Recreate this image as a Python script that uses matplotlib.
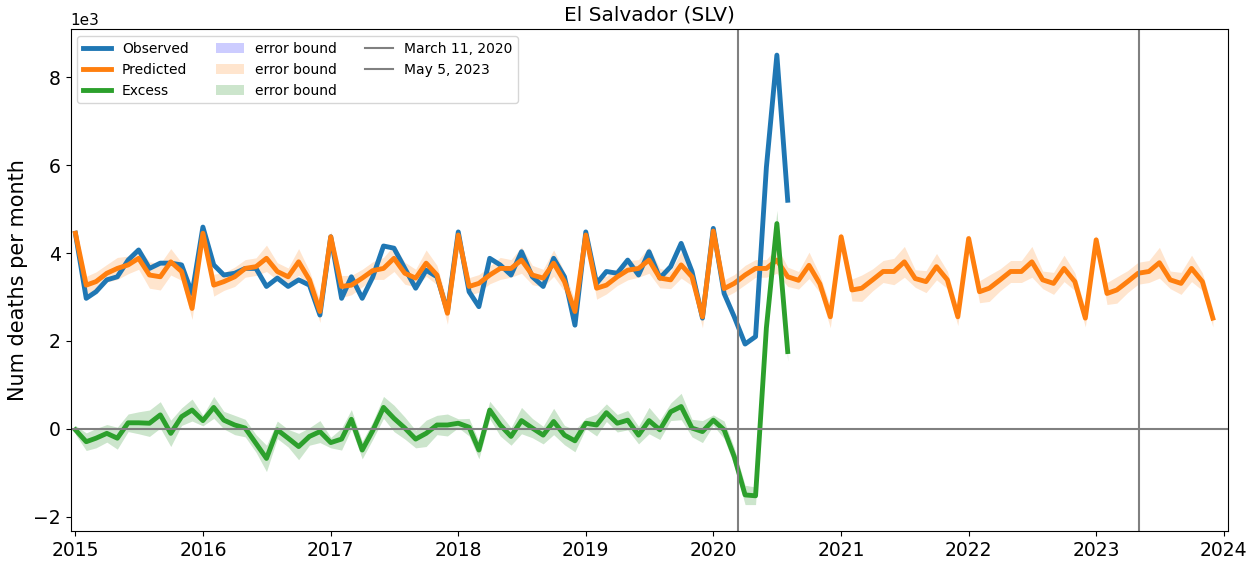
import numpy as np
import pandas as pd
import matplotlib
matplotlib.use("Agg")
import matplotlib.pyplot as plt

# monthly deaths, El Salvador
dates = pd.date_range("2015-01-01", "2023-12-01", freq="MS")

observed = [
    4450, 2970, 3120, 3390, 3460, 3840, 4070, 3650, 3770, 3770, 3730, 3080,
    4590, 3730, 3500, 3540, 3650, 3650, 3240, 3430, 3240, 3390, 3270, 2590,
    4370, 2970, 3460, 2970, 3450, 4160, 4110, 3650, 3200, 3610, 3460, 2670,
    4480, 3120, 2780, 3880, 3730, 3500, 4030, 3460, 3240, 3880, 3460, 2360,
    4480, 3310, 3580, 3540, 3840, 3500, 4030, 3430, 3690, 4220, 3580, 2520,
    4560, 3080, 2550, 1930, 2100, 5950, 8500, 5200,
]

predicted = [
    4450, 3270, 3350, 3540, 3650, 3730, 3880, 3500, 3460, 3800, 3580, 2740,
    4450, 3270, 3350, 3460, 3650, 3690, 3880, 3580, 3460, 3800, 3390, 2670,
    4370, 3240, 3270, 3430, 3600, 3650, 3880, 3540, 3430, 3770, 3500, 2630,
    4410, 3240, 3310, 3500, 3650, 3650, 3840, 3500, 3430, 3770, 3350, 2670,
    4410, 3200, 3270, 3460, 3610, 3650, 3840, 3430, 3390, 3730, 3460, 2550,
    4500, 3190, 3310, 3500, 3650, 3650, 3840, 3460, 3380, 3720, 3300, 2550,
    4370, 3160, 3200, 3390, 3580, 3580, 3800, 3420, 3350, 3690, 3390, 2550,
    4330, 3120, 3200, 3390, 3580, 3580, 3800, 3390, 3310, 3650, 3350, 2520,
    4300, 3080, 3160, 3350, 3540, 3580, 3780, 3390, 3310, 3650, 3350, 2520,
]

excess = [
    -20, -290, -210, -100, -210, 140, 140, 130, 320, -100, 280, 430,
    190, 490, 200, 90, 20, -330, -670, -20, -210, -400, -170, -60,
    -310, -230, 220, -480, -40, 490, 240, 20, -230, -100, 90, 90,
    130, 40, -480, 430, 90, -170, 190, 20, -140, 170, -140, -270,
    130, 90, 370, 130, 200, -140, 190, -20, 390, 510, 20, -60,
    200, -20, -630, -1500, -1520, 2300, 4670, 1760,
]

# half width of the error bound around predicted / excess
pred_err = [
    100, 200, 220, 200, 250, 200, 250, 300, 300, 300, 200, 250,
    120, 250, 200, 220, 200, 200, 300, 200, 200, 300, 200, 250,
    120, 250, 220, 200, 200, 250, 300, 250, 200, 300, 220, 250,
    100, 200, 200, 200, 250, 200, 300, 220, 200, 300, 220, 250,
    120, 250, 200, 200, 220, 200, 300, 220, 200, 300, 200, 250,
    120, 200, 200, 220, 200, 200, 300, 220, 200, 300, 200, 250,
    100, 250, 300, 250, 250, 300, 350, 200, 250, 300, 200, 200,
    100, 250, 300, 250, 250, 250, 350, 200, 250, 300, 200, 200,
    100, 250, 300, 250, 250, 250, 350, 200, 250, 300, 200, 200,
]

events = [("March 11, 2020", "2020-03-11"), ("May 5, 2023", "2023-05-05")]

obs = np.array(observed, dtype=float)
pred = np.array(predicted, dtype=float)
exc = np.array(excess, dtype=float)
err = np.array(pred_err, dtype=float)
d_obs = dates[:len(obs)]
d_exc = dates[:len(exc)]

fig = plt.figure(figsize=(12.59, 5.61), dpi=100)
ax = fig.add_axes([0.056, 0.0535, 0.919, 0.8945])

l_obs, = ax.plot(d_obs, obs, color="C0", lw=3.5, label="Observed")
l_pred, = ax.plot(dates, pred, color="C1", lw=3.5, label="Predicted")
l_exc, = ax.plot(d_exc, exc, color="C2", lw=3.5, label="Excess")

f_obs = ax.fill_between(d_obs, obs, obs, color="blue", alpha=0.2, lw=0, label="error bound")
f_pred = ax.fill_between(dates, pred - err, pred + err, color="C1", alpha=0.2, lw=0, label="error bound")
e = err[:len(exc)]
f_exc = ax.fill_between(d_exc, exc - e, exc + e, color="green", alpha=0.2, lw=0, label="error bound")

vls = []
for name, day in events:
    vls.append(ax.axvline(pd.Timestamp(day), color="gray", lw=1.5, label=name))
ax.axhline(0, color="gray", lw=1.5)

ax.set_xlim(pd.Timestamp("2014-12-18"), pd.Timestamp("2024-01-12"))
ax.set_ylim(-2320, 9090)
ax.ticklabel_format(axis="y", style="sci", scilimits=(3, 3))
ax.yaxis.get_offset_text().set_fontsize(11)
ax.tick_params(labelsize=13.5)

ax.set_title("El Salvador (SLV)", fontsize=14.5)
ax.set_ylabel("Num deaths per month", fontsize=15)

ax.legend(handles=[l_obs, l_pred, l_exc, f_obs, f_pred, f_exc] + vls,
          loc="upper left", ncol=3, fontsize=10)

fig.savefig("out.png", dpi=100)
